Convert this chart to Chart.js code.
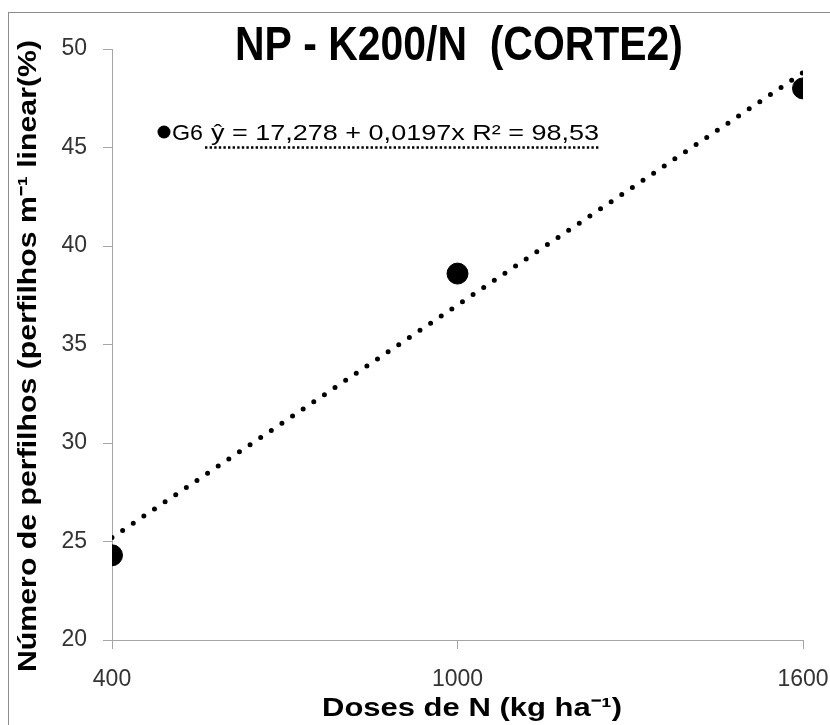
<!DOCTYPE html>
<html>
<head>
<meta charset="utf-8">
<script src="https://cdn.jsdelivr.net/npm/chart.js@4.4.1/dist/chart.umd.min.js"></script>
<style>
  html, body { margin: 0; padding: 0; background: #ffffff; overflow: hidden; }
  #wrap { position: relative; width: 830px; height: 725px; }
  #frame { position: absolute; left: 8px; top: 12px; width: 900px; height: 800px; border-left: 1.5px solid #8c8c8c; border-top: 1.5px solid #8c8c8c; box-sizing: border-box; pointer-events: none; }
  canvas { position: absolute; left: 0; top: 0; }
</style>
</head>
<body>
<div id="wrap">
  <div id="frame"></div>
  <canvas id="c" width="830" height="725"></canvas>
</div>
<script>
// ---- data ----
const doses = [400, 1000, 1600];
const g6Values = [24.3, 38.6, 48.0];
const trendX = [400, 1600];
const trendY = [25.2, 48.8];
const xTicks = [400, 1000, 1600];
const yTicks = [20, 25, 30, 35, 40, 45, 50];
const chartTitle = 'NP - K200/N  (CORTE2)';
const yTitle = 'Número de perfilhos (perfilhos m\u207B\u00B9 linear(%)';
const xTitle = 'Doses de N (kg ha\u207B\u00B9)';
const seriesName = 'G6';
const equation = 'ŷ = 17,278 + 0,0197x R² = 98,53';

function fitText(ctx, txt, font, x, y, w, align, rot) {
  ctx.save();
  ctx.font = font;
  const m = ctx.measureText(txt).width;
  const s = w / m;
  ctx.translate(x, y);
  if (rot) ctx.rotate(rot);
  ctx.scale(s, 1);
  ctx.textAlign = align;
  ctx.fillStyle = '#000';
  ctx.fillText(txt, 0, 0);
  ctx.restore();
}

const textPlugin = {
  id: 'texts',
  afterDraw(chart) {
    const ctx = chart.ctx;
    const F = '"Liberation Sans", Arial, sans-serif';
    ctx.textBaseline = 'alphabetic';
    fitText(ctx, chartTitle, 'bold 49px ' + F, 459, 60, 448, 'center');
    ctx.save();
    ctx.textBaseline = 'middle';
    fitText(ctx, yTitle, 'bold 25px ' + F, 29, 356, 632, 'center', -Math.PI / 2);
    ctx.restore();
    fitText(ctx, xTitle, 'bold 26px ' + F, 472, 716, 300, 'center');
    ctx.save();
    ctx.fillStyle = '#000';
    ctx.beginPath();
    ctx.arc(164, 132, 6.5, 0, Math.PI * 2);
    ctx.fill();
    ctx.restore();
    fitText(ctx, seriesName, '22px ' + F, 172, 139.5, 31, 'left');
    fitText(ctx, equation, '22px ' + F, 211, 139.5, 388, 'left');
    ctx.save();
    ctx.strokeStyle = '#000';
    ctx.lineWidth = 2.5;
    ctx.setLineDash([2.4, 2.2]);
    ctx.beginPath();
    ctx.moveTo(205, 147.5);
    ctx.lineTo(600, 147.5);
    ctx.stroke();
    ctx.restore();
  }
};

const gridCfg = {
  drawOnChartArea: false,
  drawTicks: true,
  tickLength: 9,
  color: '#a6a6a6',
  lineWidth: 1
};

const tickFont = { family: '"Liberation Sans", Arial, sans-serif', size: 23 };

new Chart(document.getElementById('c'), {
  type: 'scatter',
  data: {
    datasets: [
      {
        label: 'Tendência',
        type: 'line',
        data: trendX.map((x, i) => ({ x: x, y: trendY[i] })),
        showLine: true,
        borderColor: '#000',
        borderWidth: 5,
        borderDash: [0, 12.8],
        borderCapStyle: 'round',
        pointRadius: 0,
        fill: false,
        order: 2
      },
      {
        label: seriesName,
        data: doses.map((x, i) => ({ x: x, y: g6Values[i] })),
        backgroundColor: '#000',
        borderColor: '#000',
        pointRadius: 10.5,
        pointHoverRadius: 10.5,
        order: 1
      }
    ]
  },
  options: {
    responsive: false,
    animation: false,
    devicePixelRatio: 1,
    layout: { padding: { top: 49, right: 27, left: 0, bottom: 0 } },
    plugins: {
      legend: { display: false },
      title: { display: false },
      tooltip: { enabled: false }
    },
    scales: {
      x: {
        type: 'linear',
        min: 400,
        max: 1600,
        afterBuildTicks: (s) => { s.ticks = xTicks.map(v => ({ value: v })); },
        afterFit: (s) => { s.height = 85; s.paddingLeft = 0; s.paddingRight = 0; },
        grid: gridCfg,
        border: { color: '#a6a6a6', width: 1 },
        ticks: {
          padding: 17,
          color: '#333333',
          font: tickFont,
          callback: (v) => String(v)
        }
      },
      y: {
        type: 'linear',
        min: 20,
        max: 50,
        afterBuildTicks: (s) => { s.ticks = yTicks.map(v => ({ value: v })); },
        afterFit: (s) => { s.width = 112; s.paddingTop = 0; s.paddingBottom = 0; },
        grid: gridCfg,
        border: { color: '#a6a6a6', width: 1 },
        ticks: {
          padding: 16,
          color: '#333333',
          font: tickFont,
          callback: (v) => String(v)
        }
      }
    }
  },
  plugins: [textPlugin]
});
</script>
</body>
</html>
